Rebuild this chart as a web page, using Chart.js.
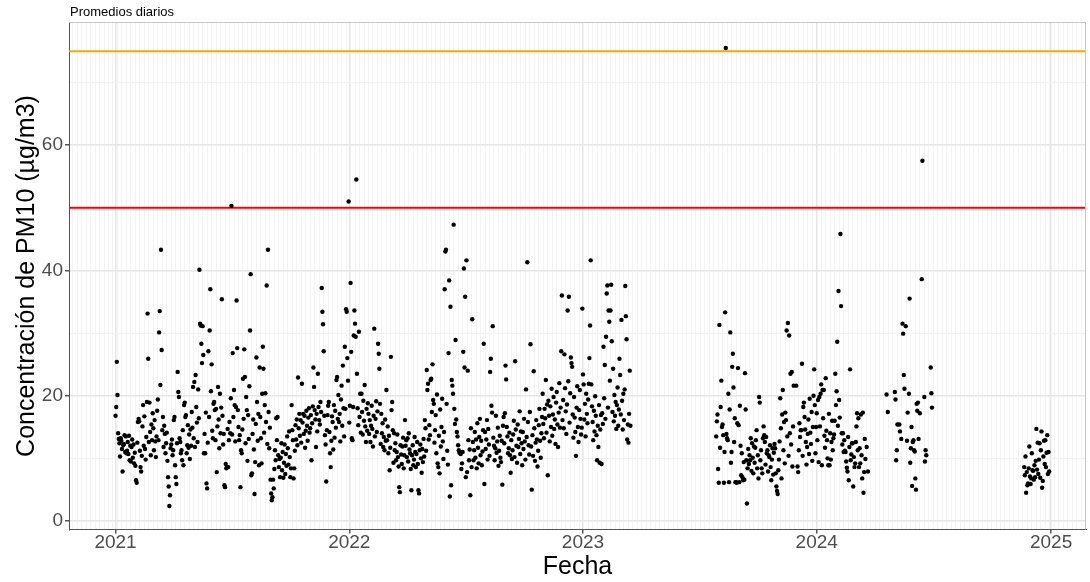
<!DOCTYPE html>
<html lang="es">
<head>
<meta charset="utf-8">
<title>PM10 - Promedios diarios</title>
<script src="https://cdn.jsdelivr.net/npm/chart.js@4.4.1/dist/chart.umd.min.js"></script>
<style>
  html, body { margin: 0; padding: 0; background: #fff; }
  #grafico { display: block; }
</style>
</head>
<body>
<canvas id="grafico" width="1090" height="582"></canvas>
<script>
//------Datos------
// PM10 diario (µg/m3), un valor por dia desde el inicio de cada tramo, null = sin dato
const inicioTramos = ['2021-01-01', '2023-07-28', '2024-04-19', '2024-11-20'];

const pm10Tramo1 = [
  // 2021
  16.8, 18.2, 25.4, 20.1, 14.0, 13.1, 12.4, 10.3, 13.2, 12.8, 11.5, 7.9, 12.1, 12.3, 13.7, 11.0, 13.5, 10.8, 11.2, 12.6, 10.7, 13.6, 9.7, 12.0, 9.5, 11.8, 13.0, 10.1, 12.2, 9.2, 10.9,
  8.8, 6.5, 6.1, 12.5, 15.8, 16.3, 15.9, 11.2, 8.6, 7.9, 10.4, 15.1, 18.5, 12.0, 16.7, 11.5, 9.8, 13.4, 19.0, 33.1, 25.9, 12.6, 18.9, 14.2, 10.5, 15.4, 12.9, 17.2,
  14.8, 11.3, 16.1, 12.7, 10.2, 13.5, 17.6, 19.4, 12.9, 30.1, 33.5, 21.7, 43.3, 27.3, 14.5, 16.6, 11.8, 15.2, 13.9, 10.8, 12.4, 14.1, 9.6, 7.0, 5.5, 2.4, 4.1, 11.6, 12.2, 13.0, 10.5,
  11.3, 16.1, 16.6, 8.9, 7.0, 5.9, 12.4, 23.8, 20.6, 19.8, 13.2, 12.6, 10.8, 11.3, 9.7, 14.5, 8.9, 18.5, 18.9, 16.6, 16.9, 10.8, 12.1, 15.3, 11.7, 13.8, 9.9, 14.6, 12.0, 17.4,
  14.9, 21.4, 13.2, 22.2, 11.8, 23.3, 18.2, 15.7, 12.6, 21.0, 16.4, 40.1, 31.5, 31.2, 28.3, 25.2, 31.1, 26.5, 10.8, 13.9, 10.8, 17.3, 6.0, 5.2, 12.5, 27.1, 16.6, 30.4, 37.0, 20.7, 25.0,
  14.4, 13.2, 18.7, 19.0, 17.7, 12.9, 17.9, 7.8, 15.1, 21.4, 16.2, 11.6, 20.3, 14.0, 18.1, 35.4, 16.8, 12.2, 13.9, 5.7, 5.4, 9.1, 8.4, 8.6, 14.7, 8.6, 12.9, 15.8, 14.0, 19.6,
  50.3, 13.8, 26.8, 16.6, 20.9, 18.5, 12.7, 18.2, 35.2, 27.6, 17.7, 15.0, 12.9, 13.7, 5.4, 11.3, 10.8, 14.6, 22.7, 16.3, 27.4, 23.0, 12.4, 19.8, 17.7, 9.6, 16.9, 13.1, 21.5, 30.4, 39.4,
  7.3, 7.6, 13.9, 16.2, 11.4, 4.3, 9.4, 15.5, 26.1, 19.0, 12.8, 17.1, 8.9, 24.5, 16.6, 13.2, 9.2, 20.3, 27.8, 24.3, 14.1, 18.5, 20.4, 15.8, 37.6, 12.3, 43.3, 17.4, 11.6, 14.9, 6.6,
  4.4, 3.3, 3.8, 6.6, 5.2, 8.3, 11.3, 9.7, 16.4, 12.9, 16.6, 10.5, 8.6, 9.9, 7.0, 10.1, 12.4, 8.1, 11.0, 6.9, 9.3, 12.2, 7.5, 10.7, 8.8, 13.5, 11.6, 9.0, 14.3, 10.2,
  7.0, 8.4, 18.5, 14.5, 12.9, 6.8, 8.4, 11.2, 15.3, 13.0, 16.2, 12.1, 22.9, 14.8, 17.1, 13.6, 16.1, 12.5, 21.9, 15.7, 17.1, 13.9, 16.8, 11.7, 14.4, 17.6, 15.2, 12.8, 16.5, 18.0, 14.1,
  14.8, 16.9, 9.7, 15.6, 18.3, 24.5, 21.4, 17.7, 16.2, 11.8, 17.1, 14.3, 23.5, 18.2, 16.1, 15.4, 19.0, 17.4, 37.2, 33.4, 31.4, 27.1, 16.8, 13.7, 12.2, 6.3, 14.5, 16.9, 18.4,
  19.0, 14.2, 10.8, 8.6, 12.8, 16.7, 15.8, 11.4, 18.5, 13.3, 17.6, 14.9, 22.5, 23.0, 16.3, 20.1, 15.8, 17.1, 12.7, 19.4, 21.6, 15.2, 24.8, 18.0, 13.5, 27.8, 17.9, 33.8, 33.4, 26.0, 22.4,
  // 2022
  51.0, 15.7, 18.4, 38.0, 27.0, 13.2, 12.9, 18.2, 29.6, 33.6, 31.5, 29.4, 54.5, 23.5, 18.0, 15.3, 30.2, 16.6, 20.3, 14.1, 20.3, 17.4, 13.8, 19.2, 16.0, 21.7, 15.1, 12.6, 17.9, 14.4, 18.8,
  17.1, 13.9, 16.1, 12.6, 15.2, 18.4, 14.7, 11.9, 16.8, 30.7, 13.5, 16.3, 19.1, 14.2, 17.5, 28.3, 26.7, 24.3, 18.7, 12.3, 17.1, 14.0, 15.6, 11.8, 13.4, 11.3, 16.2, 12.8,
  20.9, 12.9, 15.1, 10.8, 13.6, 8.1, 11.7, 26.2, 17.7, 19.0, 14.5, 9.3, 14.0, 11.3, 12.4, 9.7, 11.0, 13.8, 10.2, 8.7, 5.4, 4.6, 12.1, 10.6, 9.1, 11.9, 13.3, 8.4, 10.5, 16.1, 12.0,
  12.9, 10.2, 13.2, 9.5, 14.0, 11.4, 10.8, 8.3, 4.9, 10.5, 12.1, 8.9, 9.8, 13.4, 11.0, 8.6, 10.7, 12.6, 9.1, 4.9, 4.4, 11.3, 12.2, 10.0, 7.7, 11.5, 9.4, 13.1, 10.3,
  16.1, 14.8, 11.2, 24.1, 20.9, 21.9, 13.0, 15.3, 13.7, 22.5, 22.7, 17.4, 25.0, 19.3, 18.7, 12.5, 14.5, 16.9, 10.8, 20.2, 9.2, 8.6, 13.6, 7.6, 17.8, 11.9, 15.0, 19.5, 12.7, 9.9, 14.2,
  37.0, 43.0, 43.3, 18.7, 11.2, 9.0, 26.8, 38.4, 3.9, 34.2, 5.7, 22.5, 21.6, 20.3, 47.3, 17.9, 15.5, 28.9, 16.2, 14.2, 13.5, 12.1, 11.3, 10.9, 11.0, 10.7, 8.3, 9.2, 11.0, 27.0,
  40.3, 24.5, 35.8, 7.0, 41.6, 7.8, 24.0, 12.9, 9.7, 11.4, 4.1, 14.8, 8.6, 32.2, 12.6, 9.7, 11.3, 14.2, 10.1, 13.0, 8.4, 15.6, 11.7, 9.2, 13.4, 16.3, 10.5, 12.8, 8.9, 11.1, 14.5,
  28.3, 5.9, 14.2, 11.5, 13.0, 16.1, 9.8, 14.7, 12.2, 10.4, 23.8, 25.9, 18.4, 17.3, 31.1, 13.3, 12.0, 9.7, 11.6, 16.8, 10.9, 12.7, 14.9, 8.8, 11.2, 13.6, 10.1, 9.4, 12.8, 5.8, 15.2,
  16.6, 12.4, 17.2, 24.8, 22.6, 15.0, 13.5, 10.8, 11.6, 14.1, 10.5, 7.7, 12.9, 9.9, 11.3, 13.8, 16.0, 10.2, 25.5, 14.6, 12.0, 9.3, 15.4, 11.8, 13.1, 17.5, 10.7, 14.3, 12.4, 8.9,
  14.2, 11.5, 16.3, 12.7, 9.8, 21.0, 13.4, 41.3, 15.8, 12.1, 10.6, 17.4, 28.2, 11.9, 5.0, 13.7, 10.4, 23.9, 14.8, 9.6, 12.5, 16.1, 13.0, 8.7, 11.2, 15.3, 17.9, 12.8, 10.1, 14.0, 16.6,
  20.3, 15.5, 13.2, 17.9, 16.4, 22.5, 14.1, 18.6, 7.3, 19.2, 16.8, 12.7, 18.3, 15.0, 21.1, 13.6, 17.0, 19.8, 14.7, 16.2, 12.3, 18.9, 20.6, 15.4, 11.8, 17.3, 22.0, 14.9, 18.1, 27.1,
  36.0, 16.1, 19.3, 14.8, 26.6, 21.2, 17.5, 13.9, 18.6, 33.6, 22.3, 35.8, 15.7, 20.4, 26.1, 25.2, 24.6, 17.0, 13.3, 19.8, 16.5, 14.2, 10.4, 18.1, 21.5, 15.0, 12.6, 17.7, 20.9, 16.3, 13.8,
  // 2023
  14.9, 33.9, 23.4, 21.8, 16.2, 18.7, 13.5, 20.3, 17.1, 15.6, 19.4, 21.9, 26.0, 31.2, 41.6, 21.8, 18.3, 15.8, 12.9, 17.6, 14.3, 19.9, 16.8, 13.7, 9.7, 15.2, 11.8, 18.5, 9.3, 14.6, 16.9,
  9.1, 17.2, 15.5, 27.8, 19.6, 24.9, 16.3, 29.4, 36.3, 37.6, 18.1, 33.6, 31.8, 22.4, 33.6, 37.7, 28.7, 17.4, 24.3, 15.9, 20.1, 16.8, 19.0, 14.7, 18.5, 21.3, 15.2, 17.8,
  25.9, 23.3, 17.0, 32.1, 19.2, 14.6, 20.3, 16.1, 21.0, 37.5, 32.7, 29.0, 13.0, 15.4, 12.5, 17.1, 24.0, 15.2
];

const pm10Tramo2 = [
  13.5, 15.9, 17.0, 8.3, 6.1, 31.3, 11.7, 18.2, 22.4, 15.0, 15.4, 13.7, 6.1, 11.0, 33.3, 75.5, 13.9, 13.2, 12.9, 20.3, 6.2, 17.8, 30.1, 9.3, 11.0, 24.6, 26.7, 21.3, 12.6, 16.4, 6.2,
  6.2, 6.1, 15.6, 24.4, 15.3, 6.2, 18.4, 12.0, 7.3, 10.8, 7.0, 6.5, 9.4, 6.6, 23.6, 17.8, 9.7, 2.8, 8.4, 11.5, 9.1, 10.5, 9.7, 13.2, 8.0, 12.4, 10.1, 7.6, 11.9, 9.3,
  11.7, 12.9, 14.5, 8.4, 10.5, 6.8, 19.8, 18.9, 9.7, 11.3, 8.4, 7.6, 13.2, 15.1, 13.7, 12.6, 9.0, 13.4, 10.8, 11.3, 7.9, 10.5, 10.2, 12.1, 8.6, 6.5, 9.8, 11.6, 7.4, 10.9, 12.3,
  11.6, 7.6, 5.5, 4.8, 4.3, 8.1, 9.8, 12.7, 19.6, 14.8, 6.8, 17.0, 20.9, 11.3, 15.8, 9.2, 17.3, 16.1, 30.4, 13.5, 31.6, 10.4, 29.6, 14.0, 23.5, 12.2, 23.8, 8.7, 15.1, 21.6,
  null, null, null, 21.6, null, 8.7, 7.8, 11.3, 15.6, 13.4, 14.5, 14.5, 25.1, 10.4, 18.2, 18.9, 16.6, 14.6, 12.6, 9.0, 11.8, 13.9, 16.2, 10.7, 19.5, 14.1, 12.3, 17.4, 9.6, 15.0, 20.0,
  24.2, 18.5, 10.8, 15.0, 17.2, 12.9, 19.3, 9.4, 19.8, 15.1, 20.3, 21.8, 8.9, 20.9, 16.4, 20.9, 13.6, 11.7, 22.8, 14.4, 12.9, 10.0, 8.9, 17.1, 8.9, 14.0, 9.8, 12.6, 16.0, 11.3, 13.2,
  13.8, 16.0, 23.5, 18.5, 20.7, 28.6, 15.2, 36.7, 19.3, 16.5, 45.8, 34.3, 14.0, 12.2, 14.0, 11.0, 12.9, 11.2, 11.0, 9.5, 8.5, 7.9, 13.4, 6.5, 11.8, 24.2, 9.7, 10.6, 12.4,
  12.4, 5.5, 10.2, 8.6, 9.2, 12.6, 15.1, 17.2, 11.3, 16.4, 8.6, 11.6, 9.2, 17.0, 10.5, 6.8, 17.3, 4.5, 7.8, 13.1, 9.9, null, 11.8, null, 7.9
];

const pm10Tramo3 = [
  20.2, null, 17.4, null, null, null, null,
  null, null, null, null, null, null, 20.6, 19.4, 9.7, 11.3, 15.4, null, null, 15.4, 14.3, null, 13.1, null, 31.5, 29.9, 23.3, 21.1, null, 31.1, null, 12.8, 17.3, null, 20.3, 35.5, 9.3,
  11.6, 15.0, 5.6, 12.6, 12.9, 11.3, 11.1, 6.8, 5.0, 18.7, 17.6, 18.9, 13.1, null, 17.2, null, null, 38.6, 57.5, null, null, 19.8, 9.5, 11.3, 10.5, null, null, null, null, null,
  null, 24.5, 20.4, 18.1
];

const pm10Tramo4 = [
  8.6, 7.3, 10.3, 4.5, 7.8, 5.7,
  6.0, 8.4, 11.9, 7.1, 5.9, 6.8, 10.8, 8.1, 8.0, 6.6, 8.9, 7.0, 9.6, 14.7, 8.2, 12.5, 7.5, 9.8, 12.4, 6.9, 11.3, 14.3, 5.3, 6.4, 10.3, 12.8, 9.1, 12.9, 8.6, 10.9, 13.7,
  7.5, 11.0, 7.9
];

const anios = [2021, 2022, 2023, 2024, 2025];
const ticksY = [0, 10, 20, 30, 40, 50, 60, 70];
const etiquetasY = [0, 20, 40, 60];
const limites = [75, 50];
const coloresLimites = ['#FFA500', '#FF0000'];
//--------------


//---Escalas (dias desde 2021-01-01)
const DIA = 86400000;
const ORIGEN = Date.parse('2021-01-01');
const diaDe = (fecha) => (Date.parse(fecha) - ORIGEN) / DIA;

const xMin = -72.7;
const xMax = 1515.5;
const yMin = -1.36;
const yMax = 79.57;

const diasAnio = anios.map((a) => diaDe(a + '-01-01'));
const esAnio = (v) => diasAnio.includes(v);
const esMayorY = (v) => etiquetasY.includes(v);

// lineas menores semanales
const semanas = [];
for (let d = -67; d <= xMax; d += 7) semanas.push(d);
const ticksX = [...new Set([...semanas, ...diasAnio])].sort((a, b) => a - b);

const puntos = [];
[pm10Tramo1, pm10Tramo2, pm10Tramo3, pm10Tramo4].forEach((valores, t) => {
  const d0 = diaDe(inicioTramos[t]);
  valores.forEach((v, i) => {
    if (v !== null) puntos.push({ x: d0 + i, y: v });
  });
});
//----------------


//---Grafico
const fuente = "'Liberation Sans', Arial, sans-serif";

const marcoPanel = {
  id: 'marcoPanel',
  afterDraw(chart) {
    const { ctx, chartArea: a } = chart;
    ctx.save();
    ctx.strokeStyle = '#c8c8c8';
    ctx.lineWidth = 1;
    ctx.beginPath();
    ctx.moveTo(a.left, a.top);
    ctx.lineTo(a.right - 0.5, a.top);
    ctx.lineTo(a.right - 0.5, a.bottom);
    ctx.stroke();
    ctx.fillStyle = '#000';
    ctx.font = '13px ' + fuente;
    ctx.textBaseline = 'alphabetic';
    ctx.fillText('Promedios diarios', a.left + 1, 15.5);
    ctx.restore();
  }
};

new Chart(document.getElementById('grafico'), {
  type: 'scatter',
  data: {
    datasets: [
      {
        data: puntos,
        pointRadius: 2.2,
        pointBackgroundColor: '#000',
        pointBorderWidth: 0,
        order: 0
      },
      ...limites.map((v, i) => ({
        data: [{ x: xMin, y: v }, { x: xMax, y: v }],
        showLine: true,
        borderColor: coloresLimites[i],
        borderWidth: 2,
        pointRadius: 0,
        order: 1
      }))
    ]
  },
  options: {
    responsive: false,
    animation: false,
    events: [],
    layout: { padding: { top: 22.5, right: 1, left: 0, bottom: 0 } },
    plugins: {
      legend: { display: false },
      tooltip: { enabled: false }
    },
    scales: {
      x: {
        type: 'linear',
        min: xMin,
        max: xMax,
        afterBuildTicks: (s) => { s.ticks = ticksX.map((v) => ({ value: v })); },
        afterFit: (s) => { s.height = 52.5; },
        grid: {
          color: (c) => esAnio(c.tick.value) ? '#e6e6e6' : '#f3f3f3',
          lineWidth: (c) => esAnio(c.tick.value) ? 1.5 : 1,
          tickLength: 4,
          tickColor: (c) => esAnio(c.tick.value) ? '#555' : 'rgba(0,0,0,0)'
        },
        border: { color: '#555', width: 1 },
        ticks: {
          autoSkip: false,
          maxRotation: 0,
          minRotation: 0,
          padding: -2,
          color: '#4d4d4d',
          font: { family: fuente, size: 19 },
          callback: (v) => esAnio(v) ? String(anios[diasAnio.indexOf(v)]) : ''
        },
        title: {
          display: true,
          text: 'Fecha',
          color: '#000',
          font: { family: fuente, size: 25 },
          padding: { top: 0, bottom: 0 }
        }
      },
      y: {
        min: yMin,
        max: yMax,
        afterBuildTicks: (s) => { s.ticks = ticksY.map((v) => ({ value: v })); },
        afterFit: (s) => { s.width = 69; },
        grid: {
          color: (c) => esMayorY(c.tick.value) ? '#e6e6e6' : '#f3f3f3',
          lineWidth: (c) => esMayorY(c.tick.value) ? 1.5 : 1,
          tickLength: 4,
          tickColor: (c) => esMayorY(c.tick.value) ? '#555' : 'rgba(0,0,0,0)'
        },
        border: { color: '#555', width: 1 },
        ticks: {
          autoSkip: false,
          padding: 2,
          color: '#4d4d4d',
          font: { family: fuente, size: 19 },
          callback: (v) => esMayorY(v) ? String(v) : ''
        },
        title: {
          display: true,
          text: 'Concentración de PM10 (µg/m3)',
          color: '#000',
          font: { family: fuente, size: 25 },
          padding: { top: 12, bottom: 0 }
        }
      }
    }
  },
  plugins: [marcoPanel]
});
//-----------------------
</script>
</body>
</html>
